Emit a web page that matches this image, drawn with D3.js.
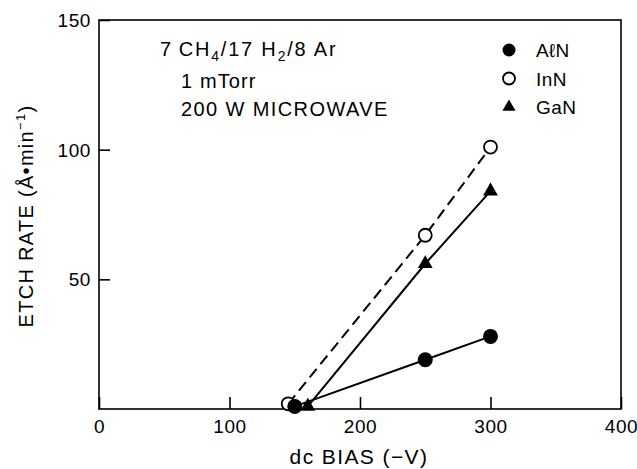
<!DOCTYPE html>
<meta charset="utf-8">
<html>
<script src="https://cdn.jsdelivr.net/npm/d3@7"></script>
<style>
  body { margin: 0; background: #fff; }
  text { font-family: "Liberation Sans", Arial, sans-serif; fill: #000; }
</style>
<div id="chart"></div>
<script>

// values
var biasAlN = [150, 250, 300];
var rateAlN = [1, 19, 28];
var biasInN = [145, 250, 300];
var rateInN = [2, 67, 101];
var biasGaN = [160, 250, 300];
var rateGaN = [1, 56, 84];
var xTicks = [0, 100, 200, 300, 400];
var yTicks = [50, 100, 150];
var notes = ["1 mTorr", "200 W MICROWAVE"];
var legendNames = ["A\u2113N", "InN", "GaN"];

var width = 637,
    height = 469;
var margin = {top: 20, right: 16, bottom: 60, left: 99};

var svg = d3.select("#chart")
  .append("svg")
    .attr("width", width)
    .attr("height", height);

var x = d3.scaleLinear().domain([0, 400]).range([margin.left, width - margin.right]);
var y = d3.scaleLinear().domain([0, 150]).range([height - margin.bottom, margin.top]);

// frame
svg.append("rect")
  .attr("x", x(0)).attr("y", y(150))
  .attr("width", x(400) - x(0)).attr("height", y(0) - y(150))
  .attr("fill", "none").attr("stroke", "#000").attr("stroke-width", 1.6);

// axes with inward ticks
var xAxis = svg.append("g")
  .attr("transform", "translate(0," + y(0) + ")")
  .call(d3.axisBottom(x).tickValues(xTicks).tickSizeInner(-12).tickSizeOuter(0).tickPadding(10));
var yAxis = svg.append("g")
  .attr("transform", "translate(" + x(0) + ",0)")
  .call(d3.axisLeft(y).tickValues(yTicks).tickSizeInner(-11).tickSizeOuter(0).tickPadding(8));

[xAxis, yAxis].forEach(function(a) {
  a.select(".domain").remove();
  a.selectAll("line").attr("stroke-width", 1.6);
  a.selectAll("text")
    .style("font-family", "'Liberation Sans', Arial, sans-serif")
    .style("font-size", "19px")
    .style("letter-spacing", "0.6px");
});
xAxis.selectAll("text").attr("dy", "0.72em");
yAxis.selectAll("text").attr("dy", "0.35em");

// axis titles
svg.append("text")
  .attr("x", 359).attr("y", 464)
  .attr("text-anchor", "middle")
  .style("font-size", "21px")
  .style("letter-spacing", "1.4px")
  .text("dc BIAS (\u2212V)");

var yt = svg.append("text")
  .attr("transform", "translate(33,216) rotate(-90)")
  .attr("text-anchor", "middle")
  .style("font-size", "20px")
  .style("letter-spacing", "1.3px");
yt.append("tspan").text("ETCH RATE (\u00C5\u2022min");
yt.append("tspan").attr("dy", -8).style("font-size", "13px").text("\u22121");
yt.append("tspan").attr("dy", 8).text(")");

// series
var series = [
  {b: biasAlN, r: rateAlN, dash: null, mark: "fill"},
  {b: biasInN, r: rateInN, dash: "11,6", mark: "open"},
  {b: biasGaN, r: rateGaN, dash: null, mark: "tri"}
];

var line = d3.line().x(function(d) { return x(d[0]); }).y(function(d) { return y(d[1]); });

series.forEach(function(s) {
  var pts = d3.zip(s.b, s.r);
  svg.append("path")
    .attr("d", line(pts))
    .attr("fill", "none")
    .attr("stroke", "#000")
    .attr("stroke-width", 2)
    .attr("stroke-dasharray", s.dash);
});

function drawMark(g, kind, cx, cy, big) {
  if (kind === "tri") {
    g.append("path")
      .attr("d", d3.symbol().type(d3.symbolTriangle).size(big ? 95 : 75)())
      .attr("transform", "translate(" + cx + "," + cy + ")")
      .attr("fill", "#000");
  } else {
    g.append("circle")
      .attr("cx", cx).attr("cy", cy)
      .attr("r", kind === "fill" ? (big ? 7.5 : 6.5) : (big ? 6.5 : 6))
      .attr("fill", kind === "fill" ? "#000" : "#fff")
      .attr("stroke", "#000")
      .attr("stroke-width", kind === "fill" ? 0 : 1.8);
  }
}

// draw InN first so the filled markers sit on top at the bottom-left cluster
[1, 2, 0].forEach(function(i) {
  var s = series[i];
  s.b.forEach(function(b, j) { drawMark(svg, s.mark, x(b), y(s.r[j]), true); });
});

// conditions text
var t0 = svg.append("text").attr("x", 160).attr("y", 56)
  .style("font-size", "20px").style("letter-spacing", "1.8px");
t0.append("tspan").text("7\u2009CH");
t0.append("tspan").attr("dy", 5).style("font-size", "14px").text("4");
t0.append("tspan").attr("dy", -5).text("/17 H");
t0.append("tspan").attr("dy", 5).style("font-size", "14px").text("2");
t0.append("tspan").attr("dy", -5).text("/8 Ar");

svg.selectAll("text.note")
  .data(notes)
  .enter().append("text")
    .attr("class", "note")
    .attr("x", 181)
    .attr("y", function(d, i) { return 88 + i * 28; })
    .style("font-size", "20px")
    .style("letter-spacing", function(d, i) { return i ? "1.4px" : "1.1px"; })
    .text(function(d) { return d; });

// legend
var kinds = ["fill", "open", "tri"];
legendNames.forEach(function(n, i) {
  var cy = 50 + i * 28.5;
  drawMark(svg, kinds[i], 509, cy, false);
  svg.append("text")
    .attr("x", 536).attr("y", cy + 7)
    .style("font-size", "19px")
    .style("letter-spacing", "0.4px")
    .text(n);
});

</script>
</html>
